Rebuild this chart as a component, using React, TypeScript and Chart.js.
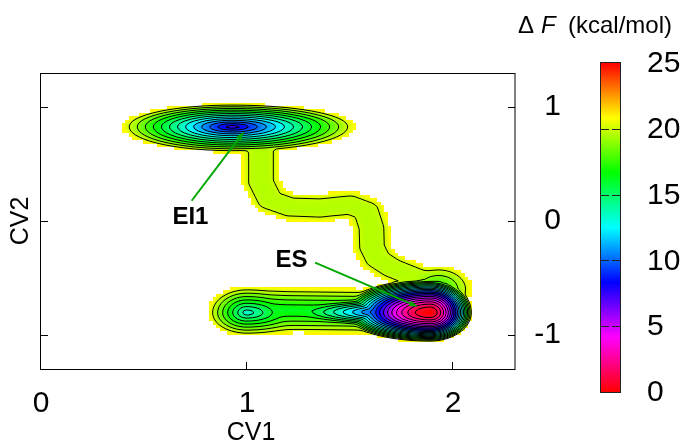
import React, { useEffect, useRef } from 'react';
import { Chart, registerables } from 'chart.js';

Chart.register(...registerables);

const FONT = "'Liberation Sans', Arial, Helvetica, sans-serif";

// ---------- axes ----------
const xRange = [0, 2.3];
const yRange = [-1.3, 1.3];
const xTicks = [0, 1, 2];
const yTicks = [-1, 0, 1];
const colorTicks = [0, 5, 10, 15, 20, 25];
const colorDashes = [5, 10, 15, 20];
const contourLevels = [1, 2, 3, 4, 5, 6, 7, 8, 9, 10, 11, 12, 13, 14, 15, 16, 17, 18, 19, 20];
const fCut = 21; // free energy above which the map is left blank
const fMax = 25;

// ---------- basins (minima) ----------
// centre, value at the minimum, reach of the 20 kcal/mol contour on each side, profile exponent
// EI1, lower-left minimum, ES core, ES tail, ES upper shoulder
const basinX = [0.928, 0.998, 1.888, 1.87, 1.93];
const basinY = [0.828, -0.805, -0.805, -0.8, -0.6];
const basinF0 = [7.2, 13.2, 0.0, 2.0, 17.5];
const basinLeft = [0.5, 0.165, 0.42, 0.75, 0.13];
const basinRight = [0.56, 0.3, 0.2, 0.1, 0.13];
const basinUp = [0.19, 0.2, 0.29, 0.14, 0.17];
const basinDown = [0.21, 0.18, 0.25, 0.14, 0.17];
const basinPow = [1.0, 1.0, 1.7, 0.8, 1.5];

// ---------- valleys (paths) ----------
const channelSX = [1.0675, 1.0675, 1.1112, 1.2083, 1.3538, 1.4994, 1.577, 1.6037, 1.6061, 1.6352, 1.7031, 1.8002, 1.8972];
const channelSY = [0.6236, 0.3426, 0.1845, 0.123, 0.1142, 0.1405, 0.0878, -0.0615, -0.2284, -0.3338, -0.4128, -0.4831, -0.5622];
const channelBX = [1.15, 1.65];
const channelBY = [-0.785, -0.795];
const channelF0 = [19.6, 16.2];
const channelHalfX = [0.06, 0.15];
const channelHalfY = [0.08, 0.165];
const channelPow = [3.0, 1.3];
const channelXs = [channelSX, channelBX];
const channelYs = [channelSY, channelBY];

// ---------- annotations ----------
const labelText = ['EI1', 'ES'];
const labelX = [0.725, 1.216];
const labelY = [0.031, -0.343];
const arrowFromX = [0.731, 1.33];
const arrowFromY = [0.178, -0.366];
const arrowToX = [0.985, 1.829];
const arrowToY = [0.784, -0.753];

const maskStepX = 0.017;
const maskStepY = 0.03;
const softT = 0.3;

const nComp = basinX.length + channelXs.length;
const tmp = new Float64Array(nComp);

function channelValue(k: number, x: number, y: number): number {
  const xs = channelXs[k];
  const ys = channelYs[k];
  const wx = channelHalfX[k];
  const wy = channelHalfY[k];
  const px = x / wx;
  const py = y / wy;
  let best = Infinity;
  for (let i = 0; i < xs.length - 1; i++) {
    const ax = xs[i] / wx, ay = ys[i] / wy;
    const bx = xs[i + 1] / wx, by = ys[i + 1] / wy;
    const dx = bx - ax, dy = by - ay;
    const len2 = dx * dx + dy * dy;
    let t = len2 > 0 ? ((px - ax) * dx + (py - ay) * dy) / len2 : 0;
    t = t < 0 ? 0 : t > 1 ? 1 : t;
    const ex = ax + t * dx - px, ey = ay + t * dy - py;
    const d2 = ex * ex + ey * ey;
    if (d2 < best) best = d2;
  }
  const d = Math.sqrt(best);
  return channelF0[k] + (20 - channelF0[k]) * Math.pow(d, channelPow[k]);
}

function energy(x: number, y: number): number {
  let n = 0;
  for (let k = 0; k < basinX.length; k++) {
    const dx = x - basinX[k];
    const dy = y - basinY[k];
    const rx = dx < 0 ? basinLeft[k] : basinRight[k];
    const ry = dy > 0 ? basinUp[k] : basinDown[k];
    const r = Math.sqrt((dx / rx) * (dx / rx) + (dy / ry) * (dy / ry));
    tmp[n++] = basinF0[k] + (20 - basinF0[k]) * Math.pow(r, basinPow[k]);
  }
  for (let k = 0; k < channelXs.length; k++) tmp[n++] = channelValue(k, x, y);
  let m = Infinity;
  for (let i = 0; i < n; i++) if (tmp[i] < m) m = tmp[i];
  let s = 0;
  for (let i = 0; i < n; i++) s += Math.exp(-(tmp[i] - m) / softT);
  return m - softT * Math.log(s);
}

function colorOf(f: number): [number, number, number] {
  const h = 360 * (1 - f / fMax);
  const hh = ((h % 360) + 360) % 360 / 60;
  const i = Math.floor(hh);
  const fr = hh - i;
  const q = 1 - fr;
  let r = 0, g = 0, b = 0;
  switch (i) {
    case 0: r = 1; g = fr; b = 0; break;
    case 1: r = q; g = 1; b = 0; break;
    case 2: r = 0; g = 1; b = fr; break;
    case 3: r = 0; g = q; b = 1; break;
    case 4: r = fr; g = 0; b = 1; break;
    default: r = 1; g = 0; b = q; break;
  }
  return [Math.round(r * 255), Math.round(g * 255), Math.round(b * 255)];
}

const fesPlugin = {
  id: 'fes',
  beforeDatasetsDraw(chart: any) {
    const { ctx, chartArea: ca } = chart;
    const xs = chart.scales.x;
    const ys = chart.scales.y;
    const L = Math.round(ca.left);
    const T = Math.round(ca.top);
    const W = Math.round(ca.right) - L;
    const H = Math.round(ca.bottom) - T;

    // coarse cells decide where the map is drawn
    const ncx = Math.ceil((xRange[1] - xRange[0]) / maskStepX);
    const ncy = Math.ceil((yRange[1] - yRange[0]) / maskStepY);
    const mask = new Uint8Array(ncx * ncy);
    for (let j = 0; j < ncy; j++) {
      for (let i = 0; i < ncx; i++) {
        const cx = xRange[0] + (i + 0.5) * maskStepX;
        const cy = yRange[0] + (j + 0.5) * maskStepY;
        mask[j * ncx + i] = energy(cx, cy) <= fCut ? 1 : 0;
      }
    }

    const img = ctx.createImageData(W, H);
    const d = img.data;
    for (let py = 0; py < H; py++) {
      const yv = ys.getValueForPixel(T + py + 0.5);
      const cj = Math.floor((yv - yRange[0]) / maskStepY);
      for (let px = 0; px < W; px++) {
        const xv = xs.getValueForPixel(L + px + 0.5);
        const ci = Math.floor((xv - xRange[0]) / maskStepX);
        if (ci < 0 || cj < 0 || ci >= ncx || cj >= ncy || !mask[cj * ncx + ci]) continue;
        let f = energy(xv, yv);
        f = Math.max(0, Math.min(fCut, f));
        const c = colorOf(f);
        const o = (py * W + px) * 4;
        d[o] = c[0]; d[o + 1] = c[1]; d[o + 2] = c[2]; d[o + 3] = 255;
      }
    }
    const off = document.createElement('canvas');
    off.width = W;
    off.height = H;
    (off.getContext('2d') as CanvasRenderingContext2D).putImageData(img, 0, 0);
    ctx.drawImage(off, L, T);

    // contour lines (marching squares)
    const step = 2;
    const nx = Math.floor(W / step) + 1;
    const ny = Math.floor(H / step) + 1;
    const g = new Float64Array(nx * ny);
    for (let j = 0; j < ny; j++) {
      const yv = ys.getValueForPixel(T + j * step);
      for (let i = 0; i < nx; i++) {
        g[j * nx + i] = energy(xs.getValueForPixel(L + i * step), yv);
      }
    }
    ctx.save();
    ctx.beginPath();
    ctx.rect(L, T, W, H);
    ctx.clip();
    ctx.strokeStyle = '#000';
    ctx.lineWidth = 1;
    for (const lev of contourLevels) {
      ctx.beginPath();
      for (let j = 0; j < ny - 1; j++) {
        for (let i = 0; i < nx - 1; i++) {
          const a = g[j * nx + i];
          const b = g[j * nx + i + 1];
          const c = g[(j + 1) * nx + i + 1];
          const e = g[(j + 1) * nx + i];
          const idx = (a < lev ? 8 : 0) | (b < lev ? 4 : 0) | (c < lev ? 2 : 0) | (e < lev ? 1 : 0);
          if (idx === 0 || idx === 15) continue;
          const x0 = L + i * step;
          const y0 = T + j * step;
          const top = () => [x0 + (step * (lev - a)) / (b - a), y0];
          const right = () => [x0 + step, y0 + (step * (lev - b)) / (c - b)];
          const bottom = () => [x0 + (step * (lev - e)) / (c - e), y0 + step];
          const left = () => [x0, y0 + (step * (lev - a)) / (e - a)];
          const seg = (p: number[], q: number[]) => {
            ctx.moveTo(p[0], p[1]);
            ctx.lineTo(q[0], q[1]);
          };
          switch (idx) {
            case 1: case 14: seg(left(), bottom()); break;
            case 2: case 13: seg(bottom(), right()); break;
            case 3: case 12: seg(left(), right()); break;
            case 4: case 11: seg(top(), right()); break;
            case 5: seg(top(), left()); seg(bottom(), right()); break;
            case 6: case 9: seg(top(), bottom()); break;
            case 7: case 8: seg(top(), left()); break;
            case 10: seg(top(), right()); seg(left(), bottom()); break;
          }
        }
      }
      ctx.stroke();
    }
    ctx.restore();
  },
  afterDraw(chart: any) {
    const { ctx, chartArea: ca } = chart;
    const xs = chart.scales.x;
    const ys = chart.scales.y;
    const L = Math.round(ca.left);
    const T = Math.round(ca.top);
    const R = Math.round(ca.right);
    const B = Math.round(ca.bottom);
    ctx.save();
    // frame
    ctx.strokeStyle = '#000';
    ctx.lineWidth = 1;
    ctx.strokeRect(L - 0.5, T + 0.5, R - L + 0.5, B - T);
    // inner ticks
    ctx.beginPath();
    for (const v of xTicks) {
      const p = Math.round(xs.getPixelForValue(v)) - 0.5;
      ctx.moveTo(p, B);
      ctx.lineTo(p, B - 7);
    }
    for (const v of yTicks) {
      const p = Math.round(ys.getPixelForValue(v)) + 0.5;
      ctx.moveTo(L, p);
      ctx.lineTo(L + 7, p);
      ctx.moveTo(R, p);
      ctx.lineTo(R - 7, p);
    }
    ctx.stroke();

    // annotations
    ctx.strokeStyle = '#00a800';
    ctx.fillStyle = '#00a800';
    ctx.lineWidth = 2;
    for (let k = 0; k < labelText.length; k++) {
      const x1 = xs.getPixelForValue(arrowFromX[k]);
      const y1 = ys.getPixelForValue(arrowFromY[k]);
      const x2 = xs.getPixelForValue(arrowToX[k]);
      const y2 = ys.getPixelForValue(arrowToY[k]);
      const ang = Math.atan2(y2 - y1, x2 - x1);
      const hl = 9, hw = 3;
      const bx = x2 - hl * Math.cos(ang);
      const by = y2 - hl * Math.sin(ang);
      ctx.beginPath();
      ctx.moveTo(x1, y1);
      ctx.lineTo(bx, by);
      ctx.stroke();
      ctx.beginPath();
      ctx.moveTo(x2, y2);
      ctx.lineTo(bx + hw * Math.sin(ang), by - hw * Math.cos(ang));
      ctx.lineTo(bx - hw * Math.sin(ang), by + hw * Math.cos(ang));
      ctx.closePath();
      ctx.fill();
    }
    ctx.fillStyle = '#000';
    ctx.font = `bold 24px ${FONT}`;
    ctx.textAlign = 'center';
    ctx.textBaseline = 'middle';
    for (let k = 0; k < labelText.length; k++) {
      ctx.fillText(labelText[k], xs.getPixelForValue(labelX[k]), ys.getPixelForValue(labelY[k]));
    }

    // x axis title
    ctx.font = `25px ${FONT}`;
    ctx.textAlign = 'center';
    ctx.textBaseline = 'alphabetic';
    ctx.fillText('CV1', 251, 440);

    // colour bar
    const cbL = 601, cbR = 620, cbT = 63, cbB = 392;
    for (let py = cbT; py < cbB; py++) {
      const f = ((cbB - (py + 0.5)) / (cbB - cbT)) * fMax;
      const c = colorOf(f);
      ctx.fillStyle = `rgb(${c[0]},${c[1]},${c[2]})`;
      ctx.fillRect(cbL, py, cbR - cbL, 1);
    }
    ctx.strokeStyle = '#222';
    ctx.lineWidth = 1;
    ctx.setLineDash([8, 3]);
    ctx.beginPath();
    for (const v of colorDashes) {
      const p = Math.round(cbB - (v / fMax) * (cbB - cbT)) + 0.5;
      ctx.moveTo(cbL, p);
      ctx.lineTo(cbR, p);
    }
    ctx.stroke();
    ctx.setLineDash([]);
    ctx.strokeRect(cbL - 0.5, cbT - 0.5, cbR - cbL + 1, cbB - cbT + 1);
    ctx.fillStyle = '#000';
    ctx.font = `30px ${FONT}`;
    ctx.textAlign = 'left';
    ctx.textBaseline = 'middle';
    for (const v of colorTicks) {
      const p = cbB - (v / fMax) * (cbB - cbT);
      ctx.fillText(String(v), 647, p + 1);
    }

    // colour bar title
    ctx.textBaseline = 'alphabetic';
    ctx.font = `24px ${FONT}`;
    ctx.fillText('\u0394', 518, 33);
    ctx.font = `italic 24px ${FONT}`;
    ctx.fillText('F', 541, 33);
    ctx.font = `24px ${FONT}`;
    ctx.fillText('(kcal/mol)', 568, 33);
    ctx.restore();
  },
};

export default function App() {
  const ref = useRef<HTMLCanvasElement>(null);
  useEffect(() => {
    const canvas = ref.current as HTMLCanvasElement;
    const tickFont = { family: FONT, size: 30 };
    const chart = new Chart(canvas, {
      type: 'scatter',
      data: { datasets: [] },
      options: {
        responsive: false,
        animation: false,
        devicePixelRatio: 1,
        layout: { padding: { top: 73, right: 126, bottom: 0, left: 0 } },
        plugins: { legend: { display: false }, tooltip: { enabled: false } },
        scales: {
          x: {
            type: 'linear',
            position: 'bottom',
            min: xRange[0],
            max: xRange[1],
            afterBuildTicks: (s: any) => {
              s.ticks = xTicks.map((v) => ({ value: v }));
            },
            grid: { display: false, drawTicks: false },
            border: { display: false },
            ticks: {
              color: '#000',
              font: tickFont,
              padding: 17,
              maxRotation: 0,
              autoSkip: false,
              callback: (v: any) => String(v),
            },
            afterFit: (s: any) => {
              s.height = 76;
            },
          },
          y: {
            type: 'linear',
            position: 'right',
            min: yRange[0],
            max: yRange[1],
            afterBuildTicks: (s: any) => {
              s.ticks = yTicks.map((v) => ({ value: v }));
            },
            grid: { display: false, drawTicks: false },
            border: { display: false },
            ticks: {
              color: '#000',
              font: tickFont,
              padding: 19,
              crossAlign: 'far',
              autoSkip: false,
              callback: (v: any) => String(v),
            },
            afterFit: (s: any) => {
              s.width = 46;
            },
          },
          y2: {
            type: 'linear',
            position: 'left',
            min: yRange[0],
            max: yRange[1],
            grid: { display: false, drawTicks: false },
            border: { display: false },
            ticks: { display: false },
            title: { display: true, text: 'CV2', color: '#000', font: { family: FONT, size: 25 }, padding: { top: 6, bottom: 0 } },
            afterFit: (s: any) => {
              s.width = 41;
            },
          },
        },
      } as any,
      plugins: [fesPlugin],
    });
    return () => chart.destroy();
  }, []);
  return (
    <div style={{ position: 'fixed', left: 0, top: 0, width: 687, height: 445, background: '#fff' }}>
      <canvas ref={ref} width={687} height={445} style={{ display: 'block', width: 687, height: 445 }} />
    </div>
  );
}
